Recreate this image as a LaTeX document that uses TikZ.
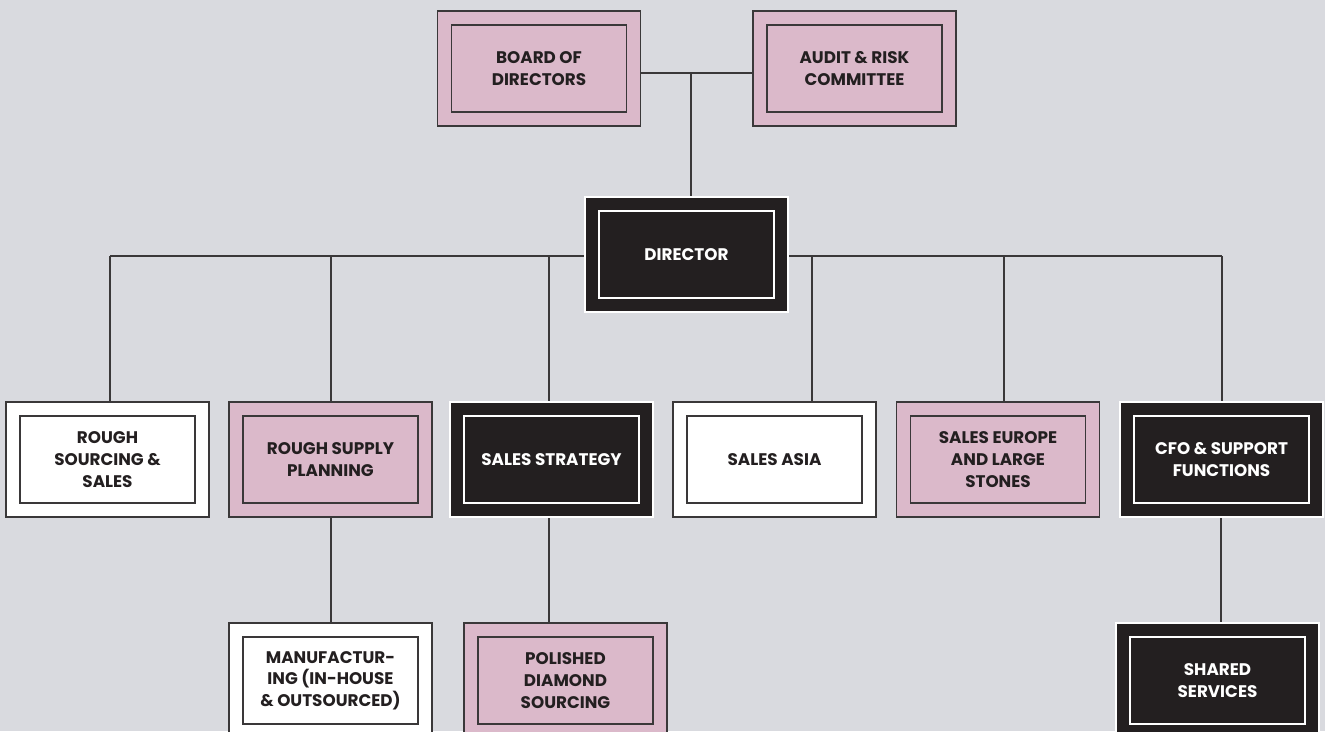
\documentclass[tikz,border=0pt]{standalone}
\usepackage{fontspec}
\setmainfont{Poppins}
\usetikzlibrary{backgrounds}
\definecolor{bg}{HTML}{D9DADF}
\definecolor{pinkc}{HTML}{DBB9CA}
\definecolor{blk}{HTML}{231F20}
\definecolor{edge}{HTML}{3A3839}
\tikzset{
  outer/.style={rectangle, minimum width=203pt, minimum height=115pt, inner sep=0pt, line width=1.1pt},
  inner/.style={rectangle, minimum width=175pt, minimum height=87pt, inner sep=0pt, line width=1.1pt, align=center, font=\fontsize{16.8}{21.7}\selectfont\bfseries},
  pinkbox/.style={fill=pinkc, draw=edge, text=blk},
  whitebox/.style={fill=white, draw=edge, text=blk},
  darkbox/.style={fill=blk, draw=white, text=white},
  conn/.style={draw=edge, line width=1.1pt}
}
\newcommand\orgbox[5]{%
  \node[outer,#4] (#1) at (#2,#3) {};
  \node[inner,#4,fill=none] (#1-in) at (#1.center) {#5};
}
\begin{document}
\begin{tikzpicture}[x=1pt,y=-1pt]
\useasboundingbox (0,0) rectangle (1325,731);
\clip (0,0) rectangle (1325,731);

\orgbox{board}{539}{68.5}{pinkbox}{BOARD OF\\DIRECTORS}
\orgbox{audit}{854.5}{68.5}{pinkbox}{AUDIT \& RISK\\COMMITTEE}
\orgbox{director}{686.5}{254.5}{darkbox}{DIRECTOR}

\orgbox{r1}{107.5}{459.5}{whitebox}{ROUGH\\SOURCING \&\\SALES}
\orgbox{r2}{330.5}{459.5}{pinkbox}{ROUGH SUPPLY\\PLANNING}
\orgbox{r3}{551.5}{459.5}{darkbox}{SALES STRATEGY}
\orgbox{r4}{774.5}{459.5}{whitebox}{SALES ASIA}
\orgbox{r5}{998}{459.5}{pinkbox}{SALES EUROPE\\AND LARGE\\STONES}
\orgbox{r6}{1221.5}{459.5}{darkbox}{CFO \& SUPPORT\\FUNCTIONS}

\orgbox{b2}{330.5}{680.5}{whitebox}{MANUFACTUR-\\ING (IN-HOUSE\\\& OUTSOURCED)}
\orgbox{b3}{565.5}{680.5}{pinkbox}{POLISHED\\DIAMOND\\SOURCING}
\orgbox{b6}{1217.5}{680.5}{darkbox}{SHARED\\SERVICES}

% connector positions
\coordinate (tj) at (691,73);
\coordinate (tap1) at (110,256);
\coordinate (tap2) at (331,256);
\coordinate (tap3) at (549,256);
\coordinate (tap4) at (812,256);
\coordinate (tap5) at (1004,256);
\coordinate (tap6) at (1222,256);
\coordinate (dn2) at (331,0);
\coordinate (dn3) at (549,0);
\coordinate (dn6) at (1221,0);

\begin{scope}[on background layer]
\fill[bg] (0,0) rectangle (1325,731);
\draw[conn] (board.east |- tj) -- (audit.west |- tj);
\draw[conn] (tj) -- (tj |- director.north);
\draw[conn] (tap1) -- (tap6);
\draw[conn] (tap1) -- (tap1 |- r1.north);
\draw[conn] (tap2) -- (tap2 |- r2.north);
\draw[conn] (tap3) -- (tap3 |- r3.north);
\draw[conn] (tap4) -- (tap4 |- r4.north);
\draw[conn] (tap5) -- (tap5 |- r5.north);
\draw[conn] (tap6) -- (tap6 |- r6.north);
\draw[conn] (dn2 |- r2.south) -- (dn2 |- b2.north);
\draw[conn] (dn3 |- r3.south) -- (dn3 |- b3.north);
\draw[conn] (dn6 |- r6.south) -- (dn6 |- b6.north);
\end{scope}
\end{tikzpicture}
\end{document}
